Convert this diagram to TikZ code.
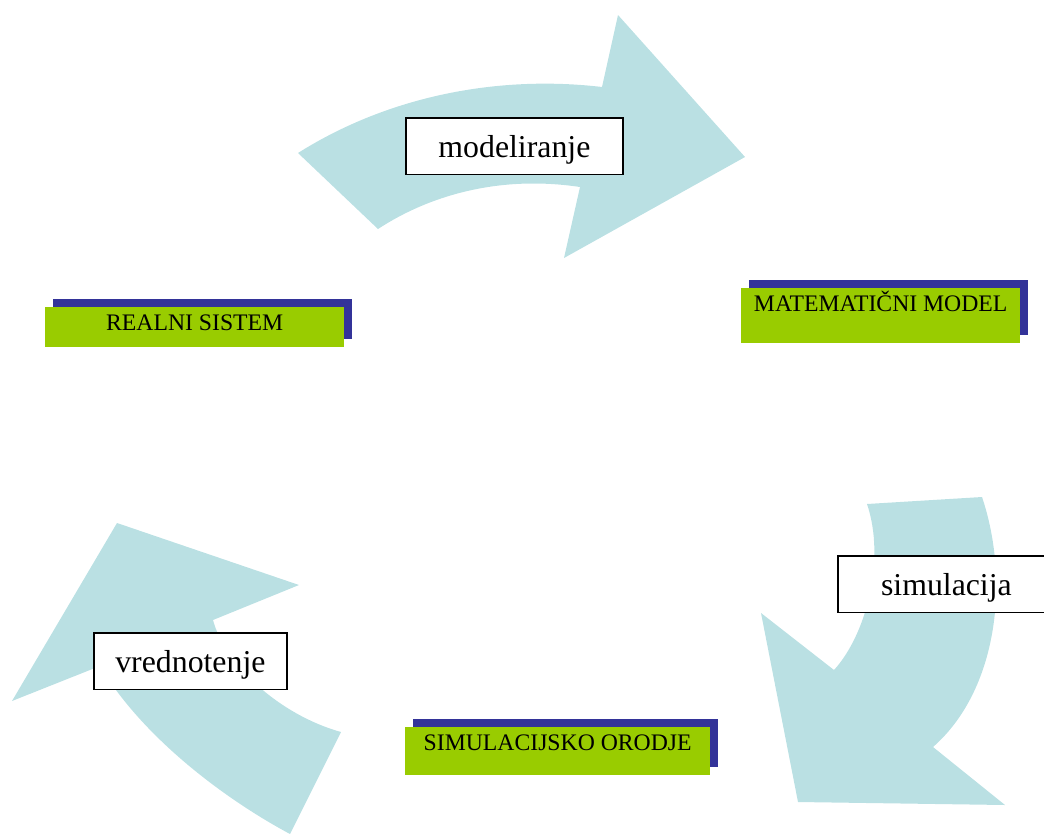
\documentclass[tikz,border=0pt]{standalone}
\usepackage{fontspec}
\setmainfont{Liberation Serif}
\usetikzlibrary{shadows}
\definecolor{arrowc}{RGB}{186,224,227}
\definecolor{shadowc}{RGB}{51,51,153}
\definecolor{greenc}{RGB}{153,204,0}
\tikzset{
  cyclearrow/.style={fill=arrowc, draw=none},
  labelbox/.style={draw=black, line width=1.8pt, fill=white, inner sep=0pt,
    text height=40pt, text depth=16.5pt, anchor=north west,
    font=\fontsize{31.8}{36}\selectfont},
  stagebox/.style={fill=greenc, inner sep=0pt, text height=23pt, anchor=north west,
    font=\fontsize{23.7}{28}\selectfont,
    drop shadow={shadow xshift=8pt, shadow yshift=8pt, fill=shadowc, opacity=1}}
}
\begin{document}
\begin{tikzpicture}[x=1pt,y=-1pt]
\useasboundingbox (0,0) rectangle (1044,833);
\clip (0,0) rectangle (1044,833);
% arrows
\fill[cyclearrow] (298,153) .. controls (390,95) and (500,75) .. (602,87) -- (618,15) -- (745,157) -- (564,258) -- (580,187) .. controls (500,175) and (430,195) .. (378,229) -- cycle;
\fill[cyclearrow] (867,504) -- (982,497) .. controls (1010,580) and (998,690) .. (933,747) -- (1005,805) -- (798,802) -- (761,613) -- (834,670) .. controls (866,635) and (886,560) .. (867,504) -- cycle;
\fill[cyclearrow] (290,834) .. controls (221,797) and (141,735) .. (100,666) -- (12,701) -- (117,523) -- (299,585) -- (213,620) .. controls (225,665) and (280,715) .. (341,732) -- cycle;
% stage boxes
\node[stagebox, minimum width=299pt, text depth=17pt] (real) at (45,307) {REALNI SISTEM};
\node[stagebox, minimum width=279pt, text depth=32pt] (mat) at (741,288) {MATEMATIČNI MODEL};
\node[stagebox, minimum width=305pt, text depth=25pt] (sim) at (405,727) {SIMULACIJSKO ORODJE};
% process labels
\node[labelbox, minimum width=217pt] (modl) at (405,117) {modeliranje};
\node[labelbox, minimum width=217pt] (siml) at (837,555) {simulacija};
\node[labelbox, minimum width=193pt] (vred) at (93,632) {vrednotenje};
\end{tikzpicture}
\end{document}
